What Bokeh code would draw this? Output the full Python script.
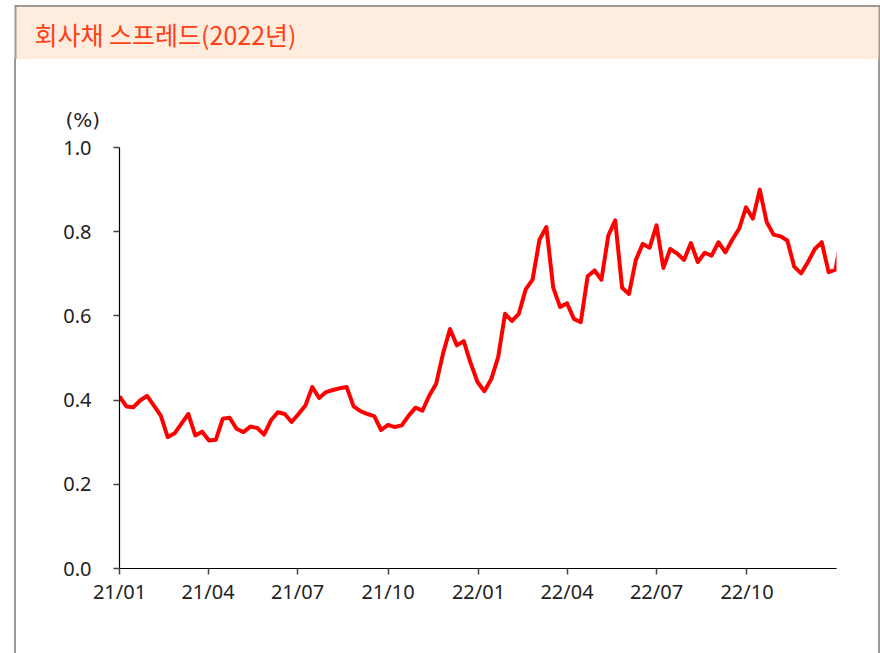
import pandas as pd
from bokeh.plotting import figure
from bokeh.layouts import column, row
from bokeh.models import (FixedTicker, DatetimeTickFormatter, NumeralTickFormatter, Range1d, Title, Div)
from bokeh.core.properties import value
from bokeh.embed import file_html
from bokeh.resources import INLINE

# ---------------- data ----------------
title_text = "회사채 스프레드(2022년)"
unit_label = "(%)"
start_date = "2021-01-01"   # weekly observations
spread = [
    0.409, 0.385, 0.383, 0.399, 0.410, 0.387, 0.363, 0.312, 0.321, 0.344,
    0.367, 0.316, 0.325, 0.304, 0.306, 0.356, 0.358, 0.332, 0.324, 0.337,
    0.334, 0.318, 0.352, 0.371, 0.367, 0.348, 0.367, 0.387, 0.431, 0.405,
    0.419, 0.424, 0.428, 0.431, 0.385, 0.374, 0.367, 0.362, 0.329, 0.341,
    0.336, 0.340, 0.363, 0.382, 0.375, 0.411, 0.439, 0.511, 0.569, 0.530,
    0.540, 0.488, 0.443, 0.421, 0.450, 0.502, 0.605, 0.588, 0.605, 0.663,
    0.686, 0.781, 0.811, 0.667, 0.621, 0.630, 0.593, 0.585, 0.694, 0.708,
    0.686, 0.791, 0.827, 0.667, 0.652, 0.733, 0.771, 0.762, 0.815, 0.714,
    0.759, 0.748, 0.733, 0.773, 0.728, 0.750, 0.743, 0.775, 0.751, 0.781,
    0.807, 0.858, 0.831, 0.900, 0.823, 0.793, 0.789, 0.779, 0.717, 0.701,
    0.728, 0.759, 0.775, 0.704, 0.710, 0.800,
]
x_tick_labels = ["21/01", "21/04", "21/07", "21/10", "22/01", "22/04", "22/07", "22/10"]
y_ticks = [0.0, 0.2, 0.4, 0.6, 0.8, 1.0]
x_start = "2021-01-01"
x_end = "2022-12-31"

dates = pd.date_range(start_date, periods=len(spread), freq="7D")
tick_ms = [pd.to_datetime("20" + t, format="%Y/%m").value // 10**6 for t in x_tick_labels]

# ---------------- styling constants ----------------
TOTAL_W, TOTAL_H = 880, 653
HEAD_H = 59
BORDER = "#9a9a9a"
BAND = "#FEEDDE"
TITLE_COLOR = "#FF4017"
FONT = "Noto Sans"
BODY_H = TOTAL_H - HEAD_H
GAP_W, LINE_W, RIGHT_W = 14, 2, 2
MAIN_W = TOTAL_W - GAP_W - LINE_W - RIGHT_W
MAIN_X0 = GAP_W + LINE_W
NOMARGIN = (0, 0, 0, 0)

# ---------------- header ----------------
head = figure(width=TOTAL_W, height=HEAD_H, output_backend="svg", toolbar_location=None,
              x_range=Range1d(0, TOTAL_W), y_range=Range1d(HEAD_H, 0),
              x_axis_location=None, y_axis_location=None,
              min_border=0, min_border_left=0, min_border_right=0,
              min_border_top=0, min_border_bottom=0, margin=NOMARGIN)
head.grid.visible = False
head.outline_line_color = None
head.background_fill_color = "white"
head.border_fill_color = "white"
head.quad(left=[15], right=[879], top=[6], bottom=[HEAD_H], fill_color=BAND, line_color=None)
head.segment(x0=[14], y0=[5.5], x1=[TOTAL_W], y1=[5.5], line_color=BORDER, line_width=2)
head.segment(x0=[15], y0=[5], x1=[15], y1=[HEAD_H], line_color=BORDER, line_width=2)
head.segment(x0=[879], y0=[5], x1=[879], y1=[HEAD_H], line_color=BORDER, line_width=2)
head.text(x=[34], y=[33], text=[title_text], text_font=value("Noto Sans CJK KR"),
          text_font_size="25px", text_color=TITLE_COLOR, text_baseline="middle", text_align="left")

# ---------------- side border strips ----------------
gap = Div(text="", width=GAP_W, height=BODY_H, margin=NOMARGIN,
          styles={"background-color": "white", "padding": "0", "margin": "0"})
lline = Div(text="", width=LINE_W, height=BODY_H, margin=NOMARGIN,
            styles={"background-color": BORDER, "padding": "0", "margin": "0"})
rline = Div(text="", width=RIGHT_W, height=BODY_H, margin=NOMARGIN,
            styles={"background-color": BORDER, "padding": "0", "margin": "0"})

# ---------------- main chart ----------------
p = figure(width=MAIN_W, height=BODY_H, x_axis_type="datetime", output_backend="svg",
           toolbar_location=None, margin=NOMARGIN,
           x_range=Range1d(pd.Timestamp(x_start), pd.Timestamp(x_end)),
           y_range=Range1d(y_ticks[0], y_ticks[-1]),
           min_border_left=119 - MAIN_X0, min_border_right=MAIN_X0 + MAIN_W - 836,
           min_border_top=147 - HEAD_H, min_border_bottom=TOTAL_H - 568)
p.outline_line_color = None
p.background_fill_color = "white"
p.border_fill_color = "white"
p.xgrid.visible = False
p.ygrid.visible = False

p.line(dates, spread, line_color="#FF0000", line_width=4, line_join="round")

for ax in (p.xaxis[0], p.yaxis[0]):
    ax.axis_line_color = "#000000"
    ax.axis_line_width = 1.2
    ax.major_tick_line_color = "#444444"
    ax.major_tick_line_width = 1.5
    ax.major_tick_in = 0
    ax.major_tick_out = 6
    ax.minor_tick_line_color = None
    ax.major_label_text_font = FONT
    ax.major_label_text_font_size = "20px"
    ax.major_label_text_color = "#222222"

p.yaxis.ticker = FixedTicker(ticks=y_ticks)
p.yaxis.formatter = NumeralTickFormatter(format="0.0")
p.yaxis.major_label_standoff = 22

p.xaxis.ticker = FixedTicker(ticks=tick_ms)
fmt = "%y/%m"
p.xaxis.formatter = DatetimeTickFormatter(years=fmt, months=fmt, days=fmt, hours=fmt,
                                          minutes=fmt, seconds=fmt, milliseconds=fmt,
                                          microseconds=fmt, hourmin=fmt, minsec=fmt)
p.xaxis.major_label_standoff = 3

p.add_layout(Title(text=unit_label, align="left", offset=-54, standoff=32,
                   text_font="DejaVu Sans", text_font_size="20px", text_font_style="normal",
                   text_color="#222222"), "above")

layout = column(head, row(gap, lline, p, rline, margin=NOMARGIN), margin=NOMARGIN)
open("out.html", "w").write(file_html(layout, INLINE))
